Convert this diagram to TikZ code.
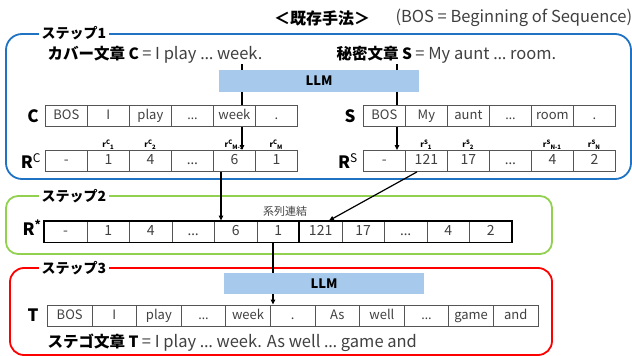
\documentclass[tikz,border=0pt]{standalone}
\usepackage{fontspec}
\setmainfont{Noto Sans CJK JP}
\newfontfamily\lat{Noto Sans}
\newcommand\mydots{{\lat …}}
\usetikzlibrary{arrows.meta}
\definecolor{frblue}{HTML}{1F73C2}
\definecolor{frgreen}{HTML}{92D050}
\definecolor{frred}{HTML}{FF0000}
\definecolor{llmblue}{HTML}{A7C9EB}
\definecolor{txtgray}{HTML}{404040}
\definecolor{cellline}{HTML}{555555}
\newcommand\myrl[2]{{\bfseries r\raisebox{3pt}{\fontsize{6}{6}\selectfont #1}\raisebox{-1.8pt}{\fontsize{6}{6}\selectfont #2}}}
\newcommand\latpart[1]{{\fontsize{16.5}{16.5}\selectfont\color{txtgray}#1}}
\begin{document}
\begin{tikzpicture}[x=1pt,y=-1pt,
  cell/.style={draw=cellline, line width=0.8pt, minimum width=42pt, minimum height=21pt, inner sep=0pt, text height=9.5pt, text depth=2.5pt, anchor=west, text=txtgray, font=\fontsize{13}{13}\selectfont},
  frame/.style={line width=1.8pt, rounded corners=16pt},
  steplab/.style={fill=white, inner sep=3pt, font=\bfseries\fontsize{14}{14}\selectfont},
  llmbar/.style={fill=llmblue, minimum width=200pt, minimum height=22pt, inner sep=0pt, font=\bfseries\fontsize{13}{13}\selectfont},
  rowlab/.style={font=\bfseries\fontsize{17}{17}\selectfont},
  rsup/.style={font=\fontsize{8}{8}\selectfont},
  sent/.style={anchor=west, font=\fontsize{15.5}{15.5}\selectfont},
  arr/.style={-{Triangle[length=5pt,width=4.5pt]}, line width=1.2pt},
  ln/.style={line width=1.2pt}]
\useasboundingbox (0,0) rectangle (632,356);

% title
\node[font=\bfseries\fontsize{16}{16}\selectfont] (ttl) at (322,18) {＜既存手法＞};
\node[anchor=west, text=txtgray, font=\fontsize{16.5}{16.5}\selectfont] (bosdef) at (392,18) {(BOS = Beginning of Sequence)};

% frames
\draw[frame, frblue] (6,34) rectangle (631,179);
\draw[frame, frgreen, rounded corners=12pt] (6,196) rectangle (552,254);
\draw[frame, frred, rounded corners=14pt] (10,268) rectangle (552,355);
\node[steplab] (st1) at (74,33) {ステップ1};
\node[steplab] (st2) at (74,196) {ステップ2};
\node[steplab] (st3) at (74,268) {ステップ3};

% step 1
\node[sent] (cov) at (44,55) {\textbf{カバー文章 C} \latpart{= I play \mydots{} week.}};
\node[sent] (sec) at (333,55) {\textbf{秘密文章 S} \latpart{= My aunt \mydots{} room.}};
\node[llmbar] (llm1) at (319,81) {LLM};

\node[rowlab] (lc) at (33,116) {C};
\node[rowlab] (ls) at (350,116) {S};
\node[rowlab] (lrc) at (31,161) {R\textsuperscript{\mdseries C}};
\node[rowlab] (lrs) at (348,161) {R\textsuperscript{\mdseries S}};

\foreach \t [count=\i] in {BOS,I,play,\mydots,week,.}
  \node[cell] (c\i) at ({45+42*(\i-1)},116) {\t};
\foreach \t [count=\i] in {BOS,My,aunt,\mydots,room,.}
  \node[cell] (s\i) at ({363+42*(\i-1)},116) {\t};
\foreach \t [count=\i] in {-,1,4,\mydots,6,1}
  \node[cell, font=\fontsize{14}{14}\selectfont] (rc\i) at ({45+42*(\i-1)},161) {\t};
\foreach \t [count=\i] in {-,121,17,\mydots,4,2}
  \node[cell, font=\fontsize{14}{14}\selectfont] (rs\i) at ({363+42*(\i-1)},161) {\t};

\node[rsup] (rc1l) at (108,145) {\myrl{C}{1}};
\node[rsup] (rc2l) at (150,145) {\myrl{C}{2}};
\node[rsup] (rc5l) at (234,145) {\myrl{C}{M-1}};
\node[rsup] (rc6l) at (276,145) {\myrl{C}{M}};
\node[rsup] (rs1l) at (426,145) {\myrl{S}{1}};
\node[rsup] (rs2l) at (468,145) {\myrl{S}{2}};
\node[rsup] (rs5l) at (552,145) {\myrl{S}{N-1}};
\node[rsup] (rs6l) at (594,145) {\myrl{S}{N}};

% step 2
\node[rowlab] (lrr) at (32,228) {R\textsuperscript{*}};
\foreach \t [count=\i] in {-,1,4,\mydots,6,1,121,17,\mydots,4,2}
  \node[cell, minimum width=42.5pt, font=\fontsize{14}{14}\selectfont] (rr\i) at ({44+42.5*(\i-1)},231.5) {\t};
\draw[line width=1.8pt] (rr1.north west) rectangle (rr11.south east);
\draw[line width=1.8pt] (rr7.north west) -- (rr7.south west);
\node[text=txtgray, font=\fontsize{11}{11}\selectfont] (cat) at (285,211) {系列連結};

% step 3
\node[llmbar, minimum height=21pt] (llm2) at (324,283.5) {LLM};
\node[rowlab] (lt) at (33,315) {T};
\foreach \t [count=\i] in {BOS,I,play,\mydots,week,.,As,well,\mydots,game,and}
  \node[cell, minimum width=44.6pt] (t\i) at ({47+44.6*(\i-1)},315.5) {\t};
\node[sent] (steg) at (44,343) {\textbf{ステゴ文章 T} \latpart{= I play \mydots{} week. As well \mydots{} game and}};

% connectors
\coordinate (ca) at (242,64);
\coordinate (sa) at (397,64);
\coordinate (cb) at (221,0);
\coordinate (cd) at (273,0);
\draw[ln] (ca) -- (llm1.north -| ca);
\draw[ln] (llm1.south -| ca) -- (c5.north -| ca);
\draw[arr] (c5.south -| ca) -- (rc5.north -| ca);
\draw[ln] (sa) -- (llm1.north -| sa);
\draw[ln] (llm1.south -| sa) -- (s1.north -| sa);
\draw[arr] (s1.south -| sa) -- (rs1.north -| sa);
\draw[arr] (rc5.south -| cb) -- (rr5.north -| cb);
\draw[arr] ([xshift=12pt]rs2.south west) -- ([xshift=30pt]rr7.north west);
\draw[ln] (rr6.south -| cd) -- (llm2.north -| cd);
\draw[arr] (llm2.south -| cd) -- (t6.north -| cd);
\end{tikzpicture}
\end{document}
